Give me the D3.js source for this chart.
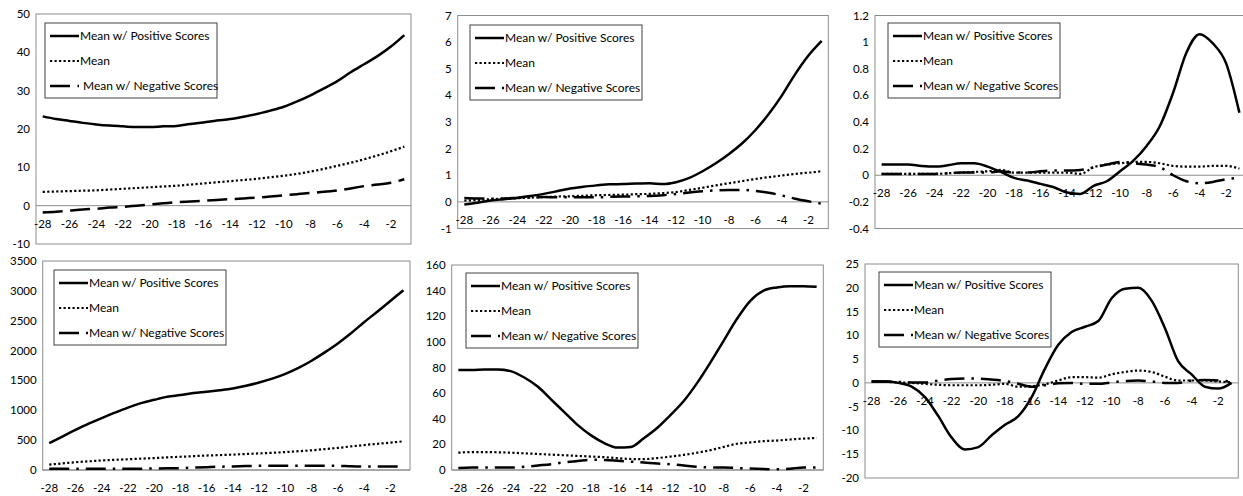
<!DOCTYPE html>
<html>
<head>
<meta charset="utf-8">
<script src="https://cdn.jsdelivr.net/npm/d3@7"></script>
<style>
  body { margin: 0; background: #fff; }
  svg { display: block; }
  text { font-family: Lato, "Open Sans", "DejaVu Sans", sans-serif; fill: #000; }
</style>
</head>
<body>
<svg id="chart" width="1243" height="496"></svg>
<script>
// Days before the event (category axis shared by all six panels)
const categories = [-28, -27, -26, -25, -24, -23, -22, -21, -20, -19, -18, -17, -16, -15,
                    -14, -13, -12, -11, -10, -9, -8, -7, -6, -5, -4, -3, -2, -1];
const xTickLabels = [-28, -26, -24, -22, -20, -18, -16, -14, -12, -10, -8, -6, -4, -2];
const seriesNames = ["Mean w/ Positive Scores", "Mean", "Mean w/ Negative Scores"];

// Panel 1
const p1Positive = [23.3, 22.6, 22.1, 21.6, 21.2, 20.9, 20.7, 20.5, 20.5, 20.7, 20.8, 21.3, 21.7, 22.2,
                    22.6, 23.2, 23.9, 24.8, 25.8, 27.2, 28.8, 30.6, 32.5, 34.8, 36.9, 39.0, 41.5, 44.5];
const p1Mean     = [3.6, 3.7, 3.8, 3.9, 4.0, 4.2, 4.4, 4.6, 4.8, 5.0, 5.2, 5.5, 5.8, 6.1,
                    6.4, 6.7, 7.0, 7.4, 7.8, 8.3, 8.9, 9.6, 10.4, 11.2, 12.1, 13.1, 14.2, 15.4];
const p1Negative = [-1.8, -1.6, -1.3, -1.0, -0.8, -0.5, -0.3, 0.0, 0.3, 0.6, 0.9, 1.1, 1.3, 1.5,
                    1.7, 1.9, 2.1, 2.4, 2.7, 3.0, 3.3, 3.6, 4.0, 4.5, 5.1, 5.5, 6.0, 6.9];
const p1Ticks = [-10, 0, 10, 20, 30, 40, 50];

// Panel 2
const p2Positive = [-0.1, -0.03, 0.05, 0.1, 0.15, 0.22, 0.3, 0.4, 0.5, 0.57, 0.62, 0.66, 0.67, 0.69,
                    0.7, 0.67, 0.74, 0.9, 1.15, 1.45, 1.8, 2.2, 2.7, 3.3, 4.0, 4.8, 5.5, 6.05];
const p2Mean     = [0.05, 0.07, 0.1, 0.12, 0.14, 0.16, 0.18, 0.2, 0.21, 0.23, 0.25, 0.26, 0.27, 0.29,
                    0.3, 0.33, 0.37, 0.45, 0.53, 0.62, 0.7, 0.78, 0.86, 0.93, 0.99, 1.05, 1.1, 1.15];
const p2Negative = [0.15, 0.13, 0.12, 0.13, 0.15, 0.17, 0.18, 0.17, 0.17, 0.17, 0.17, 0.19, 0.2, 0.21,
                    0.22, 0.25, 0.3, 0.35, 0.4, 0.43, 0.45, 0.45, 0.41, 0.34, 0.24, 0.12, 0.02, -0.07];
const p2Ticks = [-1, 0, 1, 2, 3, 4, 5, 6, 7];

// Panel 3
const p3Positive = [0.08, 0.08, 0.08, 0.07, 0.065, 0.075, 0.09, 0.09, 0.065, 0.025, -0.02, -0.04, -0.065, -0.09,
                    -0.13, -0.14, -0.08, -0.045, 0.03, 0.11, 0.22, 0.37, 0.62, 0.92, 1.06, 0.99, 0.84, 0.47];
const p3Mean     = [0.01, 0.01, 0.01, 0.01, 0.01, 0.015, 0.02, 0.025, 0.03, 0.04, 0.02, 0.02, 0.02, 0.02,
                    0.02, 0.01, 0.06, 0.08, 0.09, 0.1, 0.1, 0.09, 0.07, 0.065, 0.065, 0.07, 0.07, 0.05];
const p3Negative = [0.01, 0.01, 0.01, 0.01, 0.01, 0.015, 0.02, 0.02, 0.02, 0.03, 0.02, 0.02, 0.03, 0.035,
                    0.035, 0.04, 0.06, 0.08, 0.1, 0.09, 0.08, 0.06, 0.0, -0.045, -0.06, -0.05, -0.03, -0.02];
const p3Ticks = [-0.4, -0.2, 0, 0.2, 0.4, 0.6, 0.8, 1, 1.2];

// Panel 4
const p4Positive = [450, 560, 670, 775, 870, 960, 1045, 1120, 1175, 1225, 1255, 1290, 1310, 1335,
                    1365, 1410, 1465, 1530, 1610, 1710, 1830, 1970, 2120, 2290, 2475, 2650, 2830, 3010];
const p4Mean     = [90, 110, 130, 145, 160, 170, 180, 190, 200, 212, 222, 232, 242, 250,
                    258, 268, 278, 288, 300, 315, 330, 350, 370, 395, 418, 438, 458, 480];
const p4Negative = [20, 20, 20, 20, 20, 20, 20, 22, 25, 28, 32, 40, 48, 55,
                    60, 65, 70, 72, 72, 72, 72, 72, 70, 62, 58, 58, 58, 58];
const p4Ticks = [0, 500, 1000, 1500, 2000, 2500, 3000, 3500];

// Panel 5
const p5Positive = [78, 78, 78.5, 78.5, 77, 72, 65, 55, 45, 35, 27, 21, 17.5, 18,
                    25, 33, 43, 54, 68, 84, 101, 118, 132, 140, 142.5, 143.5, 143.5, 143];
const p5Mean     = [13.5, 14, 14, 13.8, 13.5, 13, 12.5, 12, 11.5, 11, 10.5, 10, 9.2, 8.6,
                    8.5, 9.3, 10.5, 11.8, 13.5, 15.5, 18, 20.5, 21.5, 22.5, 23, 23.8, 24.5, 25];
const p5Negative = [1.5, 2, 2, 2, 2, 2.5, 3.5, 4.5, 6, 7, 8, 7.8, 7.2, 6.5,
                    5.8, 5, 4.5, 3.5, 2.5, 2, 2, 1.5, 1.2, 0.8, 0.5, 1, 2, 2];
const p5Ticks = [0, 20, 40, 60, 80, 100, 120, 140, 160];

// Panel 6
const p6Positive = [0.3, 0.3, 0.0, -0.8, -3, -7, -11.5, -14, -13.5, -11, -8.8, -7, -3, 3,
                    8, 10.7, 11.8, 13, 17.8, 19.8, 20, 17.3, 11.5, 4.5, 1.8, -0.8, -1.2, 0];
const p6Mean     = [0.3, 0.2, 0.1, 0.0, -0.2, -0.4, -0.5, -0.5, -0.5, -0.4, -0.2, -0.8, -0.7, -0.3,
                    0.5, 1.2, 1.2, 1.1, 1.8, 2.3, 2.6, 2.3, 1.3, 0.5, 0.5, 0.5, 0.3, 0.1];
const p6Negative = [0.3, 0.3, 0.2, 0.1, 0.1, 0.5, 0.8, 0.9, 0.9, 0.7, 0.4, -0.2, -0.8, -0.5,
                    -0.1, 0.0, -0.2, -0.2, 0.1, 0.4, 0.5, 0.3, 0.0, 0.0, 0.5, 0.6, 0.5, 0.3];
const p6Ticks = [-20, -15, -10, -5, 0, 5, 10, 15, 20, 25];

// Layout of each small chart: plot box [x0, y0, x1, y1], legend origin and value axis
const panels = [
  { box: [36, 14, 411, 244],        legend: [45, 23],   domain: [-10, 50],   ticks: p1Ticks,
    series: [p1Positive, p1Mean, p1Negative], negDash: "20,7.5", negTextX: 38 },
  { box: [457.7, 15.5, 828.3, 228.5], legend: [470, 25],  domain: [-1, 7],     ticks: p2Ticks,
    series: [p2Positive, p2Mean, p2Negative], negDash: "20,7,2.5,7", negTextX: 35 },
  { box: [875, 15.5, 1246, 228.5],  legend: [888, 23],  domain: [-0.4, 1.2], ticks: p3Ticks,
    series: [p3Positive, p3Mean, p3Negative], negDash: "20,7,2.5,7", negTextX: 35 },
  { box: [42.7, 261, 410, 470],     legend: [54, 270],  domain: [0, 3500],   ticks: p4Ticks,
    series: [p4Positive, p4Mean, p4Negative], negDash: "20,7,2.5,7", negTextX: 35 },
  { box: [451.7, 265, 823.3, 470],  legend: [466, 273], domain: [0, 160],    ticks: p5Ticks,
    series: [p5Positive, p5Mean, p5Negative], negDash: "20,7,2.5,7", negTextX: 35 },
  { box: [865, 264, 1238.3, 478],   legend: [879, 272], domain: [-20, 25],   ticks: p6Ticks,
    series: [p6Positive, p6Mean, p6Negative], negDash: "20,7,2.5,7", negTextX: 35 }
];

const svg = d3.select("#chart");
svg.append("rect").attr("width", 1243).attr("height", 496).attr("fill", "#fff");

const gridColor = "#8c8c8c";
const fontSize = 11.5;

panels.forEach(p => {
  const [x0, y0, x1, y1] = p.box;
  const g = svg.append("g");

  const x = d3.scalePoint().domain(categories).range([x0, x1]).padding(0.5);
  const y = d3.scaleLinear().domain(p.domain).range([y1, y0]);

  // plot area border
  g.append("rect")
    .attr("x", x0).attr("y", y0).attr("width", x1 - x0).attr("height", y1 - y0)
    .attr("fill", "none").attr("stroke", gridColor).attr("stroke-width", 1);

  // value axis labels
  const fmt = v => String(+v.toFixed(2));
  g.selectAll(".ytick").data(p.ticks).enter().append("text")
    .attr("x", x0 - 6).attr("y", d => y(d))
    .attr("dy", "0.35em").attr("text-anchor", "end")
    .attr("font-size", fontSize)
    .text(fmt);

  // category axis sits at zero (or at the bottom when zero is the minimum)
  const axisY = y(Math.max(0, p.domain[0]));
  g.append("line")
    .attr("x1", x0).attr("x2", x1).attr("y1", axisY).attr("y2", axisY)
    .attr("stroke", gridColor).attr("stroke-width", 1);

  g.selectAll(".xtick").data(xTickLabels).enter().append("text")
    .attr("x", d => x(d)).attr("y", axisY + 18)
    .attr("dy", "0.35em").attr("text-anchor", "middle")
    .attr("font-size", fontSize)
    .text(d => d);

  // series lines
  const styles = [
    { dash: null, width: 2.5 },
    { dash: "2.2,2.3", width: 2.2 },
    { dash: p.negDash, width: 2.5 }
  ];
  const line = d3.line()
    .x((d, i) => x(categories[i]))
    .y(d => y(d))
    .curve(d3.curveMonotoneX);

  [2, 1, 0].forEach(k => {
    g.append("path")
      .datum(p.series[k])
      .attr("d", line)
      .attr("fill", "none")
      .attr("stroke", "#000")
      .attr("stroke-width", styles[k].width)
      .attr("stroke-dasharray", styles[k].dash)
      .attr("stroke-linejoin", "round");
  });

  // legend
  const [lx, ly] = p.legend;
  const lg = g.append("g").attr("transform", `translate(${lx},${ly})`);
  lg.append("rect").attr("width", 172).attr("height", 75)
    .attr("fill", "#fff").attr("stroke", "#404040").attr("stroke-width", 1);
  seriesNames.forEach((name, k) => {
    const ry = 13 + k * 25;
    lg.append("line")
      .attr("x1", 5).attr("x2", 34).attr("y1", ry).attr("y2", ry)
      .attr("stroke", "#000")
      .attr("stroke-width", styles[k].width)
      .attr("stroke-dasharray", styles[k].dash);
    lg.append("text")
      .attr("x", k === 2 ? p.negTextX : 35).attr("y", ry).attr("dy", "0.35em")
      .attr("font-size", 12)
      .text(name);
  });
});
</script>
</body>
</html>
